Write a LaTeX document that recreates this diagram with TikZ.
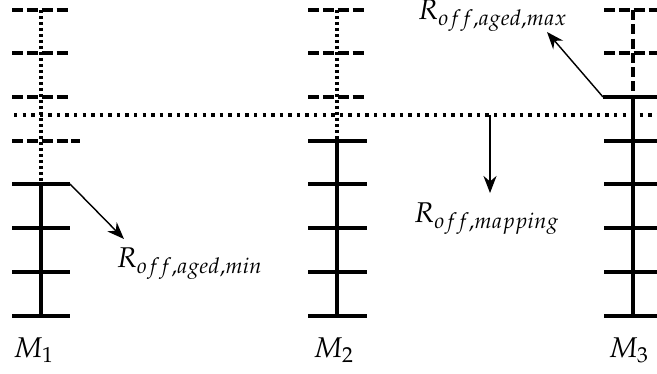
\documentclass[tikz,border=0pt]{standalone}
\usepackage{mathpazo}
\usetikzlibrary{arrows.meta,positioning}

\tikzset{
	rung/.style={line width=1.2pt},
	ghostrung/.style={line width=1.2pt, dash pattern=on 3.9pt off 1.3pt},
	rail/.style={line width=1.2pt},
	ghostrail/.style={line width=1.1pt, densely dotted},
	deadrail/.style={line width=1.1pt, dash pattern=on 3.5pt off 1.5pt},
	level/.style={line width=1.2pt, dash pattern=on 1.2pt off 1.8pt},
	pointer/.style={-{Stealth[length=6pt,width=4.6pt]}, line width=0.5pt}
}

\begin{document}
\begin{tikzpicture}[x=0.35pt, y=-0.35pt]
	\useasboundingbox (0,0) rectangle (657,374);
	
	% first memristor
	\coordinate (top1) at (41,10);
	\coordinate (low1) at (41,184);
	\coordinate (bot1) at (41,316);
	\draw[ghostrail] (top1) -- (low1);
	\draw[rail] (low1) -- (bot1);
	\foreach \y in {10,53,97}
		\draw[ghostrung] (12,\y) -- (70,\y);
	\draw[ghostrung] (12,141) -- (80,141);
	\foreach \y in {184,228,272,316}
		\draw[rung] (12,\y) -- (70,\y);
	
	% second memristor
	\coordinate (top2) at (337,10);
	\coordinate (low2) at (337,141);
	\coordinate (bot2) at (337,316);
	\draw[ghostrail] (top2) -- (low2);
	\draw[rail] (low2) -- (bot2);
	\foreach \y in {10,53,97}
		\draw[ghostrung] (308,\y) -- (367,\y);
	\foreach \y in {141,184,228,272,316}
		\draw[rung] (308,\y) -- (367,\y);
	
	% third memristor
	\coordinate (top3) at (633,10);
	\coordinate (high3) at (633,97);
	\coordinate (bot3) at (633,316);
	\draw[deadrail] (top3) -- (high3);
	\draw[rail] (high3) -- (bot3);
	\foreach \y in {10,53}
		\draw[ghostrung] (604,\y) -- (662,\y);
	\draw[rung] (603,97) -- (662,97);
	\foreach \y in {141,184,228,272,316}
		\draw[rung] (604,\y) -- (662,\y);
	
	% mapping level
	\coordinate (lvlA) at (14,115);
	\coordinate (lvlB) at (657,115);
	\draw[level] (lvlA) -- (lvlB);
	
	\node (m1) at (34,350) {$M_1$};
	\node (m2) at (334,350) {$M_2$};
	\node (m3) at (629,350) {$M_3$};
	
	\node[anchor=north west, inner sep=0pt] (rmin) at (116,247) {$R_{off,aged,min}$};
	\node (rmap) at (487,219) {$R_{off,mapping}$};
	\node (rmax) at (493,16) {$R_{off,aged,max}$};
	
	\coordinate (minfoot) at (70,184);
	\coordinate (mintip) at (124,239);
	\coordinate (maptail) at (490,115);
	\coordinate (maxfoot) at (603,97);
	\coordinate (maxtip) at (547,32);
	
	\draw[pointer] (minfoot) -- (mintip);
	\draw[pointer] (maptail) -- (maptail |- rmap.north);
	\draw[pointer] (maxfoot) -- (maxtip);
\end{tikzpicture}
\end{document}
